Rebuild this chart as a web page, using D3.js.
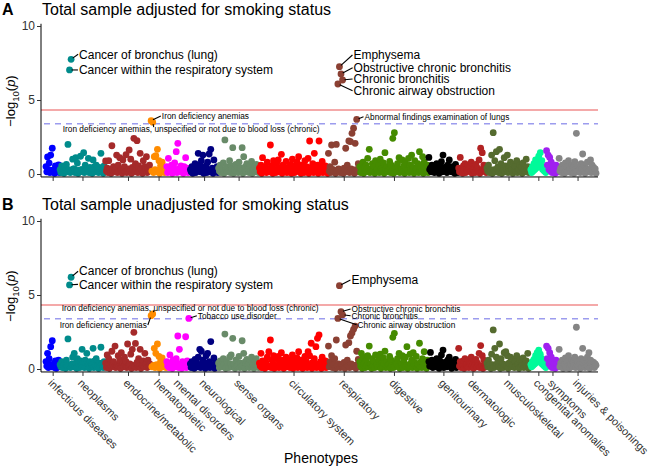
<!DOCTYPE html>
<html><head><meta charset="utf-8">
<script src="https://cdn.jsdelivr.net/npm/d3@7"></script>
<style>body{margin:0;background:#fff}svg{display:block;font-family:"Liberation Sans",Arial,Helvetica,sans-serif}</style>
</head><body><script>
// ---------------- DATA ----------------
const categories = ["infectious diseases","neoplasms","endocrine/metabolic","hematopoietic","mental disorders","neurological","sense organs","circulatory system","respiratory","digestive","genitourinary","dermatologic","musculoskeletal","congenital anomalies","symptoms","injuries & poisonings"];
const categoryColors = ["#0000FF","#008B8B","#A52A2A","#FF8C00","#FF00FF","#000080","#698B69","#FF0000","#8B4033","#458B00","#000000","#B22222","#556B2F","#00FA9A","#A020F0","#858585"];

// Panel A: adjusted for smoking (-log10 p per phenotype, in plot order)
const infectiousA = [0.5,0.15,1.15,0.3,0.74,0.1,1.28,0.25,1.74,0.2,0.3,0.05,0.55,0.2,0.2,0.35,0.62,0.1];
const neoplasmsA = [0.3,0.1,0.55,0.2,0.2,0.05,0.4,0.25,0.65,0.15,2.0,0.3,7.03,0.1,7.75,0.2,1.0,0.35,0.35,0.1,1.1,0.25,0.74,0.05,0.25,0.2,1.2,0.3,0.3,0.15,1.44,0.1,0.6,0.25,0.2,0.35,1.06,0.1,0.45,0.2,0.3,0.05,0.95,0.3,0.5,0.15,0.6,0.2,0.25,0.1,0.45,0.3,1.4,0.15,0.35,0.05,0.55,0.2];
const endocrineA = [0.88,0.2,0.4,0.1,0.9,0.3,0.3,0.05,1.91,0.25,0.5,0.15,0.25,0.35,1.28,0.1,0.6,0.2,1.1,0.3,0.35,0.05,0.95,0.25,0.5,0.15,1.3,0.1,0.2,0.35,1.62,0.2,1.0,0.05,0.45,0.3,2.41,0.15,0.7,0.25,2.25,0.1,0.55,0.2,1.4,0.35,0.3,0.05,0.9,0.15,0.5,0.3,1.17,0.1,0.35,0.2,0.6,0.25];
const hematopoieticA = [3.6,0.2,3.5,0.1,1.17,0.3,1.24,0.15,1.67,0.25,0.9,0.05,0.55,0.35,0.8,0.2,0.3,0.1,0.45,0.25];
const mentalA = [0.5,0.1,1.06,0.25,0.3,0.15,0.6,0.05,0.4,0.3,0.75,0.2,1.51,0.1,2.07,0.35,0.35,0.15,0.55,0.25,0.25,0.05,0.5,0.2,1.1,0.3,0.4,0.1,0.3,0.2];
const neurologicalA = [0.3,0.15,0.5,0.05,0.25,0.3,0.7,0.1,0.45,0.2,1.4,0.35,0.6,0.15,0.9,0.25,1.28,0.05,0.35,0.2,0.55,0.1,0.8,0.3,1.35,0.15,1.67,0.25,0.4,0.05,0.95,0.2,0.3,0.35,0.5,0.1];
const senseA = [0.4,0.2,0.6,0.1,0.3,0.25,0.75,0.05,2.3,0.3,0.5,0.15,0.35,0.2,0.9,0.1,0.55,0.35,1.78,0.05,0.3,0.25,0.65,0.15,0.45,0.1,0.8,0.3,0.4,0.2,1.78,0.05,1.17,0.25,0.5,0.15,0.7,0.35,0.35,0.1,0.6,0.2,0.85,0.05,0.3,0.3,0.5,0.15,0.65,0.25,0.4,0.1];
const circulatoryA = [0.4,0.15,0.6,0.05,1.1,0.3,0.3,0.2,0.5,0.1,0.8,0.25,0.35,0.15,1.96,0.35,0.55,0.05,0.9,0.2,0.25,0.1,0.7,0.3,0.95,0.15,0.4,0.25,1.33,0.05,0.6,0.2,0.3,0.35,0.85,0.1,0.45,0.15,0.2,0.3,0.65,0.05,1.0,0.25,0.35,0.1,0.55,0.2,0.8,0.35,1.17,0.15,0.4,0.05,0.6,0.3,0.3,0.1,0.9,0.25,0.5,0.2,1.05,0.05,2.23,0.15,0.45,0.3,0.7,0.1,1.4,0.25,0.35,0.2,0.6,0.05,2.23,0.35,0.5,0.15,0.85,0.1,0.3,0.25,0.55,0.2,0.4,0.05];
const respiratoryA = [1.4,0.2,0.5,0.1,1.96,0.3,0.3,0.15,0.8,0.05,2.0,0.25,6.08,0.35,7.25,0.1,6.76,0.2,6.35,0.05,0.4,0.3,1.74,0.15,0.6,0.25,2.23,0.1,2.19,0.35,2.75,0.2,3.09,0.05,2.07,0.3,3.69,0.15,0.7,0.25];
const digestiveA = [0.5,0.1,0.3,0.25,0.8,0.05,0.45,0.2,0.6,0.35,1.06,0.15,1.67,0.1,0.35,0.3,0.7,0.2,0.5,0.05,0.9,0.25,0.3,0.15,0.6,0.1,1.0,0.35,0.4,0.2,0.75,0.05,1.44,0.3,0.5,0.15,0.3,0.25,0.85,0.1,0.6,0.2,2.41,0.05,2.79,0.35,0.45,0.15,0.7,0.25,1.1,0.1,0.35,0.3,0.95,0.2,0.55,0.05,0.8,0.15,0.3,0.25,1.05,0.1,0.6,0.35,1.28,0.2,0.45,0.05,0.9,0.3,0.35,0.15,0.7,0.1,1.51,0.25,0.5,0.2,1.17,0.05,0.8,0.3,0.4,0.15,0.6,0.1];
const genitourinaryA = [1.12,0.3,0.4,0.15,0.6,0.35,0.3,0.1,0.5,0.25,0.7,0.2,0.35,0.05,0.55,0.3,0.83,0.15,1.28,0.4,0.45,0.2,0.3,0.1,0.6,0.35,0.95,0.25,0.4,0.15,0.5,0.3,0.25,0.05,0.65,0.2,0.35,0.1];
const dermatologicA = [0.4,0.15,1.12,0.25,0.3,0.05,0.55,0.3,0.7,0.1,0.35,0.2,0.6,0.35,0.45,0.15,0.8,0.05,0.3,0.25,0.5,0.1,0.65,0.3,0.4,0.2,0.95,0.05,1.74,0.15,1.44,0.35,0.6,0.25,0.35,0.1];
const musculoskeletalA = [0.4,0.2,0.6,0.1,0.3,0.25,1.28,0.05,2.79,0.3,0.9,0.15,1.51,0.35,0.5,0.1,1.67,0.2,0.7,0.05,0.35,0.25,1.1,0.15,0.55,0.3,1.28,0.1,0.4,0.2,0.8,0.35,0.3,0.05,0.65,0.25,0.5,0.15,0.9,0.1,0.35,0.3,0.6,0.2,0.45,0.05,0.75,0.25,0.3,0.15,1.0,0.35,0.5,0.1,0.4,0.2];
const congenitalA = [0.3,0.1,0.5,0.2,0.7,0.3,0.95,0.4,0.8,0.5,1.2,0.6,1.44,0.45,0.9,0.3,0.5,0.2,0.35,0.1];
const symptomsA = [1.57,0.6,1.28,0.3,1.12,0.2,0.8,0.1,0.5,0.25,0.3,0.05,0.6,0.2,0.4,0.15];
const injuriesA = [1.06,0.2,0.4,0.1,0.6,0.3,0.3,0.05,0.75,0.25,0.5,0.15,0.9,0.35,0.35,0.1,0.6,0.2,0.45,0.05,0.83,0.3,2.75,0.15,0.5,0.25,0.3,0.1,0.7,0.35,1.35,0.2,0.55,0.05,0.4,0.3,0.8,0.15,0.3,0.25,0.95,0.1,0.6,0.2,0.45,0.35,0.35,0.05];

// Panel B: unadjusted for smoking
const infectiousB = [0.5,0.2,1.06,0.1,0.7,0.3,1.51,0.15,1.91,0.25,0.35,0.1,0.55,0.05,0.2,0.3,0.6,0.15];
const neoplasmsB = [0.3,0.15,0.5,0.1,0.25,0.3,0.45,0.05,0.6,0.2,2.03,0.25,5.68,0.1,6.2,0.35,0.8,0.15,1.06,0.2,0.4,0.05,0.7,0.3,0.3,0.1,0.55,0.25,1.33,0.2,0.45,0.1,0.6,0.35,1.06,0.15,0.35,0.05,0.5,0.2,0.25,0.3,1.4,0.1,0.55,0.25,0.7,0.15,0.3,0.05,0.4,0.2,1.47,0.3,0.35,0.1,0.5,0.2];
const endocrineB = [0.4,0.1,0.95,0.25,0.7,0.05,0.3,0.2,1.2,0.35,0.5,0.15,1.55,0.1,0.25,0.3,0.9,0.2,0.6,0.05,1.1,0.25,0.35,0.15,0.8,0.3,0.5,0.1,1.69,0.2,0.3,0.35,1.0,0.05,1.33,0.25,2.48,0.15,1.73,0.1,0.45,0.3,0.7,0.2,1.33,0.05,0.3,0.25,0.55,0.15,1.06,0.35,0.4,0.1,0.6,0.2,0.35,0.3];
const hematopoieticB = [3.6,0.15,3.72,0.25,1.4,0.1,1.06,0.3,1.69,0.2,0.85,0.05,0.5,0.35,0.75,0.15,0.3,0.2,0.45,0.1];
const mentalB = [0.5,0.2,0.4,0.1,0.95,0.3,0.3,0.05,0.6,0.25,0.45,0.15,0.7,0.35,2.23,0.1,1.33,0.2,0.35,0.05,0.5,0.3,0.25,0.15,2.18,0.1,0.55,0.25,3.42,0.2];
const neurologicalB = [0.35,0.1,0.5,0.2,0.25,0.05,0.65,0.3,0.45,0.15,0.8,0.25,1.33,0.1,1.2,0.35,0.6,0.2,0.4,0.05,0.9,0.3,1.06,0.15,0.5,0.1,1.85,0.25,0.3,0.2,0.75,0.05,0.45,0.3,0.3,0.15];
const senseB = [0.4,0.1,0.55,0.25,0.3,0.15,0.7,0.3,2.36,0.05,0.5,0.2,0.35,0.1,0.8,0.35,0.95,0.15,2.07,0.25,0.3,0.05,0.6,0.2,0.45,0.3,0.85,0.1,0.4,0.15,1.91,0.25,1.06,0.05,0.5,0.35,0.65,0.2,0.35,0.1,0.6,0.3,0.8,0.15,0.3,0.05,0.5,0.25,0.7,0.2,0.4,0.1];
const circulatoryB = [0.4,0.2,1.06,0.1,0.55,0.25,0.3,0.05,0.5,0.3,0.8,0.15,1.17,0.2,1.96,0.1,0.6,0.35,0.9,0.05,0.25,0.25,0.7,0.15,0.85,0.1,0.4,0.3,1.1,0.2,0.6,0.05,0.3,0.25,0.8,0.15,0.45,0.35,0.2,0.1,0.65,0.2,0.95,0.05,0.35,0.3,0.55,0.15,0.75,0.1,1.17,0.25,0.4,0.2,0.6,0.05,0.3,0.35,0.85,0.15,0.5,0.1,1.17,0.3,0.9,0.2,1.74,0.05,0.45,0.25,0.7,0.15,1.51,0.1,2.07,0.35,2.3,0.2,0.5,0.05,0.8,0.3,0.3,0.15,0.55,0.1,0.4,0.25];
const respiratoryB = [1.55,0.15,0.5,0.25,0.9,0.1,0.3,0.3,0.7,0.05,1.96,0.2,3.42,0.35,5.63,0.1,3.87,0.25,3.66,0.15,0.45,0.05,1.62,0.3,0.6,0.2,1.78,0.1,2.23,0.35,2.43,0.15,2.68,0.25,2.9,0.05,1.2,0.3,0.65,0.2];
const digestiveB = [0.5,0.2,1.06,0.05,0.8,0.3,0.4,0.1,0.6,0.25,0.9,0.15,1.55,0.35,0.35,0.05,0.7,0.2,0.5,0.1,0.95,0.3,0.3,0.15,0.6,0.25,1.0,0.05,0.4,0.2,0.75,0.35,1.2,0.1,0.5,0.15,0.3,0.3,0.85,0.05,0.6,0.25,2.14,0.1,2.41,0.2,0.45,0.35,0.7,0.15,1.05,0.05,0.35,0.3,0.9,0.1,0.55,0.25,0.8,0.2,1.51,0.05,0.3,0.15,1.0,0.35,0.6,0.1,1.1,0.3,0.45,0.2,0.85,0.05,0.35,0.25,1.74,0.15,0.5,0.1,0.7,0.3,1.17,0.2,0.4,0.05,0.6,0.25];
const genitourinaryB = [0.5,0.2,1.12,0.35,0.6,0.1,0.3,0.25,0.45,0.15,0.7,0.3,0.35,0.05,0.55,0.4,0.95,0.2,1.28,0.1,0.45,0.3,0.3,0.15,0.6,0.25,0.8,0.35,0.4,0.05,0.5,0.2,0.25,0.3,0.65,0.1,0.35,0.15];
const dermatologicB = [1.4,0.2,0.5,0.1,0.3,0.3,0.55,0.05,0.7,0.25,0.35,0.15,0.6,0.1,0.45,0.35,0.8,0.2,0.3,0.05,0.5,0.3,0.65,0.15,0.4,0.25,1.06,0.1,1.58,0.2,0.9,0.05,0.6,0.35,0.35,0.15];
const musculoskeletalB = [0.4,0.15,0.6,0.25,0.3,0.05,1.0,0.3,2.64,0.1,1.4,0.2,0.8,0.35,0.5,0.15,1.69,0.05,0.7,0.25,0.35,0.1,1.1,0.3,1.17,0.2,0.9,0.05,0.4,0.35,0.8,0.15,0.3,0.25,0.65,0.1,0.5,0.2,0.9,0.3,0.35,0.05,0.6,0.15,0.45,0.25,0.75,0.1,0.3,0.35,0.55,0.2,1.06,0.05,0.4,0.15];
const congenitalB = [0.3,0.15,0.5,0.25,0.65,0.35,0.9,0.45,1.1,0.55,1.28,0.6,1.0,0.4,0.7,0.3,0.45,0.2,0.3,0.1];
const symptomsB = [1.55,0.7,1.4,0.35,1.1,0.2,0.8,0.1,0.5,0.3,0.35,0.05,0.6,0.25,0.4,0.15];
const injuriesB = [1.33,0.15,0.4,0.25,0.6,0.05,0.3,0.3,0.75,0.1,0.5,0.2,0.9,0.05,0.35,0.35,0.6,0.15,0.45,0.25,0.8,0.1,2.82,0.3,0.5,0.2,0.3,0.05,0.7,0.15,1.4,0.35,0.55,0.1,0.4,0.25,0.8,0.2,1.1,0.05,0.6,0.3,0.5,0.15,0.45,0.1,0.35,0.25];

const seriesA = [infectiousA,neoplasmsA,endocrineA,hematopoieticA,mentalA,neurologicalA,senseA,circulatoryA,respiratoryA,digestiveA,genitourinaryA,dermatologicA,musculoskeletalA,congenitalA,symptomsA,injuriesA];
const seriesB = [infectiousB,neoplasmsB,endocrineB,hematopoieticB,mentalB,neurologicalB,senseB,circulatoryB,respiratoryB,digestiveB,genitourinaryB,dermatologicB,musculoskeletalB,congenitalB,symptomsB,injuriesB];

const yTickValues = [0,5,10];
const bonferroniLine = 4.32;
const fdrLine = 3.4;

// labelled phenotypes: [category index, position in category, text]
const labelsA = [
  [1,14,"Cancer of bronchus (lung)"],
  [1,12,"Cancer within the respiratory system"],
  [3,0,"Iron deficiency anemias"],
  [3,2,"Iron deficiency anemias, unspecified or not due to blood loss (chronic)"],
  [8,14,"Emphysema"],
  [8,16,"Obstructive chronic bronchitis"],
  [8,18,"Chronic bronchitis"],
  [8,12,"Chronic airway obstruction"],
  [8,36,"Abnormal findings examination of lungs"]
];
const labelsB = [
  [1,14,"Cancer of bronchus (lung)"],
  [1,12,"Cancer within the respiratory system"],
  [3,2,"Iron deficiency anemias, unspecified or not due to blood loss (chronic)"],
  [3,0,"Iron deficiency anemias"],
  [4,28,"Tobacco use disorder"],
  [8,14,"Emphysema"],
  [8,16,"Obstructive chronic bronchitis"],
  [8,18,"Chronic bronchitis"],
  [8,12,"Chronic airway obstruction"]
];
const titles = ["Total sample adjusted for smoking status","Total sample unadjusted for smoking status"];
const panelLetters = ["A","B"];

// ---------------- LAYOUT (code) ----------------
const W = 650, H = 468;
const BIG = 12, SMALL = 8.3;
const labelLayout = {
  "A|Cancer of bronchus (lung)": {dx:8, dy:-5, fs:BIG},
  "A|Cancer within the respiratory system": {dx:9.4, dy:0, fs:BIG},
  "A|Iron deficiency anemias": {dx:10.7, dy:-4.7, fs:SMALL},
  "A|Iron deficiency anemias, unspecified or not due to blood loss (chronic)": {dx:-90, dy:7, fs:SMALL, lx:1, ly:5},
  "A|Emphysema": {dx:14, dy:-11.7, fs:BIG},
  "A|Obstructive chronic bronchitis": {dx:12.6, dy:-6.3, fs:BIG},
  "A|Chronic bronchitis": {dx:11, dy:-1, fs:BIG},
  "A|Chronic airway obstruction": {dx:15.7, dy:6.7, fs:BIG},
  "A|Abnormal findings examination of lungs": {dx:7.8, dy:-2.7, fs:SMALL},
  "B|Cancer of bronchus (lung)": {dx:8, dy:-6, fs:BIG},
  "B|Cancer within the respiratory system": {dx:9.4, dy:-0.6, fs:BIG},
  "B|Iron deficiency anemias, unspecified or not due to blood loss (chronic)": {dx:-91, dy:-5.6, fs:SMALL, lx:1.5, ly:-4},
  "B|Iron deficiency anemias": {dx:-4.3, dy:9.3, fs:SMALL, anchor:"end"},
  "B|Tobacco use disorder": {dx:9, dy:-2.7, fs:SMALL},
  "B|Emphysema": {dx:12, dy:-5.7, fs:BIG},
  "B|Obstructive chronic bronchitis": {dx:10.6, dy:-2.7, fs:SMALL},
  "B|Chronic bronchitis": {dx:9, dy:0.9, fs:SMALL},
  "B|Chronic airway obstruction": {dx:19.7, dy:6.3, fs:SMALL}
};

const svg = d3.select("body").append("svg").attr("width", W).attr("height", H);

const counts = seriesA.map(s => s.length);
const starts = [];
counts.reduce((acc, n, i) => { starts[i] = acc; return acc + n; }, 0);
const N = d3.sum(counts);
const x = d3.scaleLinear().domain([0, N - 1]).range([46, 596]);
const centers = counts.map((n, i) => x(starts[i] + (n - 1) / 2));
const axisLeftX = 41, axisRightX = 598;

const panels = [
  {key:"A", series:seriesA, labels:labelsA, y0:174, y10:26, showLabels:false},
  {key:"B", series:seriesB, labels:labelsB, y0:369, y10:221, showLabels:true}
];

panels.forEach((p, pi) => {
  const y = d3.scaleLinear().domain([0, 10]).range([p.y0, p.y10]);
  const g = svg.append("g");

  g.append("text").attr("x", 2).attr("y", p.y10 - 11.5).attr("font-size", 16).attr("font-weight", "bold").attr("fill", "#000").text(panelLetters[pi]);
  g.append("text").attr("x", 42).attr("y", p.y10 - 11.5).attr("font-size", 16).attr("fill", "#000").text(titles[pi]);

  g.append("line").attr("x1", axisLeftX).attr("x2", axisRightX).attr("y1", y(bonferroniLine)).attr("y2", y(bonferroniLine))
    .attr("stroke", "#F08C8C").attr("stroke-width", 1.5);
  g.append("line").attr("x1", axisLeftX + 3).attr("x2", axisRightX).attr("y1", y(fdrLine)).attr("y2", y(fdrLine))
    .attr("stroke", "#9C9CEE").attr("stroke-width", 1.5).attr("stroke-dasharray", "6,5");

  const pts = [];
  p.series.forEach((arr, c) => arr.forEach((v, i) => pts.push({c, i, v, gi: starts[c] + i})));
  g.append("g").selectAll("circle").data(pts).join("circle")
    .attr("cx", d => x(d.gi)).attr("cy", d => y(d.v)).attr("r", 3.4)
    .attr("fill", d => categoryColors[d.c]);

  g.append("line").attr("x1", axisLeftX).attr("x2", axisRightX).attr("y1", y(-0.2)).attr("y2", y(-0.2)).attr("stroke", "#000").attr("stroke-width", 1);
  g.append("line").attr("x1", axisLeftX).attr("x2", axisLeftX).attr("y1", y(10.15)).attr("y2", y(-0.2)).attr("stroke", "#000").attr("stroke-width", 1);

  const ya = g.append("g").attr("transform", `translate(${axisLeftX},0)`)
    .call(d3.axisLeft(y).tickValues(yTickValues).tickSize(4).tickPadding(2));
  ya.select(".domain").remove();
  ya.selectAll("text").attr("font-size", 12).attr("fill", "#333").attr("font-family", null);
  ya.selectAll("line").attr("stroke", "#333");

  const xa = g.append("g").attr("transform", `translate(0,${y(-0.2)})`)
    .call(d3.axisBottom(d3.scaleIdentity()).tickValues(centers).tickSize(4)
      .tickFormat((d, i) => p.showLabels ? categories[i] : ""));
  xa.select(".domain").remove();
  xa.selectAll("line").attr("stroke", "#333");
  xa.selectAll("text").attr("font-size", 11).attr("fill", "#333").attr("font-family", null)
    .attr("text-anchor", "start").attr("y", 0).attr("x", 0).attr("dy", "0.35em")
    .attr("transform", "translate(-3,9) rotate(45)");

  const yt = g.append("text").attr("transform", `translate(15,${(p.y0 + p.y10) / 2 + 1}) rotate(-90)`)
    .attr("text-anchor", "middle").attr("font-size", 13).attr("fill", "#000");
  yt.append("tspan").text("\u2212log");
  yt.append("tspan").attr("font-size", 9.5).attr("dy", 3.5).text("10");
  yt.append("tspan").attr("dy", -3.5).text("(");
  yt.append("tspan").attr("font-style", "italic").text("p");
  yt.append("tspan").text(")");

  const lg = g.append("g");
  p.labels.forEach(([c, i, txt]) => {
    const L = labelLayout[p.key + "|" + txt];
    const v = p.series[c][i];
    const px = x(starts[c] + i), py = y(v);
    const tx = px + L.dx, ty = py + L.dy;
    const anchor = L.anchor || "start";
    let ex, ey;
    if (L.lx !== undefined) { ex = px + L.lx; ey = py + L.ly; }
    else { ex = anchor === "end" ? tx + 1 : tx - 1; ey = ty; }
    const ang = Math.atan2(ey - py, ex - px);
    lg.append("line").attr("x1", px + Math.cos(ang) * 2).attr("y1", py + Math.sin(ang) * 2)
      .attr("x2", ex).attr("y2", ey).attr("stroke", "#000").attr("stroke-width", 1.1);
    lg.append("text").attr("x", tx).attr("y", ty).attr("dy", "0.35em").attr("text-anchor", anchor)
      .attr("font-size", L.fs).attr("fill", "#000").text(txt);
  });
});

svg.append("text").attr("x", 321).attr("y", 463).attr("text-anchor", "middle").attr("font-size", 14).attr("fill", "#000").text("Phenotypes");
</script></body></html>
